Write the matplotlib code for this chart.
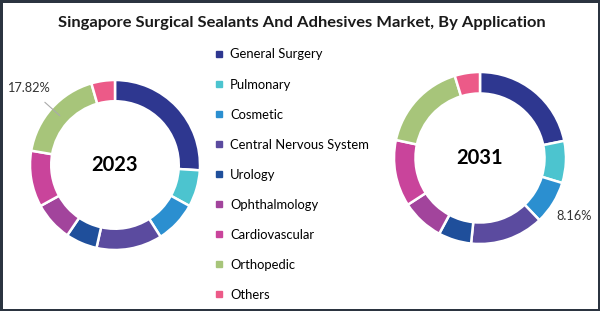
import matplotlib.pyplot as plt
import numpy as np
from matplotlib.lines import Line2D

plt.rcParams['font.family'] = ['Lato', 'DejaVu Sans']

categories = ['General Surgery', 'Pulmonary', 'Cosmetic', 'Central Nervous System',
              'Urology', 'Ophthalmology', 'Cardiovascular', 'Orthopedic', 'Others']
share_2023 = [26.0, 7.0, 8.0, 12.5, 6.0, 7.5, 10.7, 17.82, 4.48]
share_2031 = [21.8, 7.9, 8.16, 13.8, 6.2, 8.0, 12.5, 16.9, 4.74]
colors = ['#2e3790', '#4cc4cf', '#2b8fd0', '#5b4b9f', '#1f4f9b',
          '#a2449c', '#c9449b', '#a7c57a', '#ec5a88']

W, H = 600, 311
fig = plt.figure(figsize=(6, 3.11), dpi=100)
fig.patch.set_edgecolor('#2b3440')
fig.patch.set_linewidth(2.5)

fig.text(302 / W, 1 - 23 / H, 'Singapore Surgical Sealants And Adhesives Market, By Application',
         ha='center', va='center', fontsize=11.85, fontweight='bold', color='#1a1a1a')


def donut(cx, cy, r, vals, year, label_idx, lab_r, leader):
    ax = fig.add_axes([(cx - r) / W, 1 - (cy + r) / H, 2 * r / W, 2 * r / H])
    wedges, _ = ax.pie(vals, colors=colors, startangle=90, counterclock=False,
                       radius=1, wedgeprops=dict(width=0.25, edgecolor='white', linewidth=1.8))
    ax.set_xlim(-1, 1)
    ax.set_ylim(-1, 1)
    ax.set_aspect('equal')
    ax.axis('off')
    ax.text(0, 0, year, ha='center', va='center', fontsize=14.5, fontweight='bold', color='black')
    w = wedges[label_idx]
    mid = np.deg2rad((w.theta1 + w.theta2) / 2)
    pt = (0.87 * np.cos(mid), 0.87 * np.sin(mid))
    txt = (lab_r * np.cos(mid), lab_r * np.sin(mid))
    lab = '%.2f%%' % vals[label_idx]
    if leader:
        ax.annotate(lab, xy=pt, xytext=txt, ha='center', va='center', fontsize=9.2,
                    color='#333333', annotation_clip=False,
                    arrowprops=dict(arrowstyle='-', color='#aaaaaa', lw=0.8, shrinkA=6, shrinkB=0))
    else:
        ax.text(txt[0], txt[1], lab, ha='center', va='center', fontsize=9.2,
                color='#333333', clip_on=False)
    return wedges


donut(115, 165, 85, share_2023, '2023', 7, 1.36, True)
donut(480, 158, 86, share_2031, '2031', 2, 1.28, False)

handles = [Line2D([], [], marker='s', linestyle='', markersize=4, color=c) for c in colors]
fig.legend(handles, categories, loc='upper left', bbox_to_anchor=(215 / W, 1 - 48.5 / H),
           frameon=False, fontsize=9.4, labelspacing=1.38, handlelength=0.6,
           handletextpad=0.55, borderaxespad=0, borderpad=0)

fig.savefig('out.png', dpi=100, edgecolor=fig.get_edgecolor())
